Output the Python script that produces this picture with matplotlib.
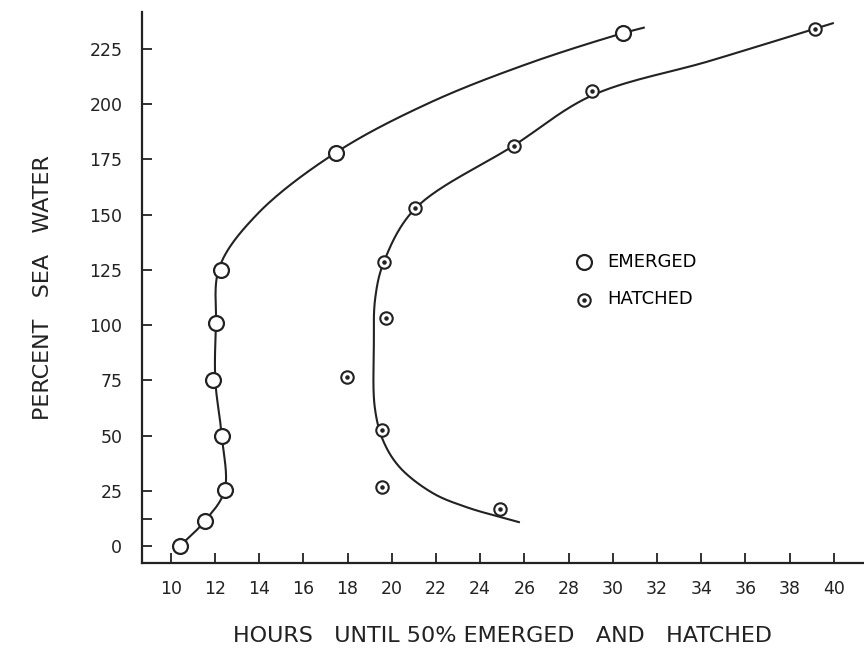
import numpy as np
import matplotlib
matplotlib.use("Agg")
import matplotlib.pyplot as plt

# ---- data ----
emerged_hours = [10.41, 11.54, 12.44, 12.31, 11.90, 12.04, 12.26, 17.47, 30.45]
emerged_pct = [0, 11.3, 25.3, 50, 75, 101, 125, 178, 232]

hatched_hours = [24.9, 19.55, 19.55, 17.96, 19.73, 19.64, 21.04, 25.52, 29.05, 39.14]
hatched_pct = [17, 27, 52.5, 76.5, 103, 128.5, 153, 181, 206, 234]

# hand-drawn fitted curves (knots of the drawn lines)
emerged_fit_x = [10.41, 11.54, 12.44, 12.31, 12.02, 12.05, 12.2, 13.9, 17.47, 21.7, 26.24, 30.45, 31.4]
emerged_fit_y = [0, 11.3, 25.3, 50, 75, 100, 126, 150, 178, 200.5, 218.5, 232, 234.5]

hatched_fit_x = [25.75, 23.4, 21.86, 20.36, 19.6, 19.23, 19.19, 19.25, 19.64, 21.04, 25.52, 29.05, 34.4, 39.14, 39.95]
hatched_fit_y = [10.9, 17.6, 24, 35.7, 48, 63, 90, 112, 128.5, 152.5, 181.2, 203.8, 219.5, 234, 236.5]

x_ticks = list(range(10, 41, 2))
y_ticks = [0, 25, 50, 75, 100, 125, 150, 175, 200, 225]
y_minor = [12.5]


def catmull_rom(xs, ys, sx=10.0, n=30, alpha=0.5):
    P = np.column_stack([np.asarray(xs) * sx, np.asarray(ys)])
    P = np.vstack([2 * P[0] - P[1], P, 2 * P[-1] - P[-2]])
    out = []
    for i in range(1, len(P) - 2):
        p0, p1, p2, p3 = P[i - 1], P[i], P[i + 1], P[i + 2]
        t0 = 0.0
        t1 = t0 + np.linalg.norm(p1 - p0) ** alpha
        t2 = t1 + np.linalg.norm(p2 - p1) ** alpha
        t3 = t2 + np.linalg.norm(p3 - p2) ** alpha
        t = np.linspace(t1, t2, n)[:, None]
        A1 = (t1 - t) / (t1 - t0) * p0 + (t - t0) / (t1 - t0) * p1
        A2 = (t2 - t) / (t2 - t1) * p1 + (t - t1) / (t2 - t1) * p2
        A3 = (t3 - t) / (t3 - t2) * p2 + (t - t2) / (t3 - t2) * p3
        B1 = (t2 - t) / (t2 - t0) * A1 + (t - t0) / (t2 - t0) * A2
        B2 = (t3 - t) / (t3 - t1) * A2 + (t - t1) / (t3 - t1) * A3
        C = (t2 - t) / (t2 - t1) * B1 + (t - t1) / (t2 - t1) * B2
        out.append(C)
    C = np.vstack(out)
    return C[:, 0] / sx, C[:, 1]


ink = "#222222"
plt.rcParams['font.family'] = ['DejaVu Sans']

fig = plt.figure(figsize=(8.64, 6.65), dpi=100)
ax = fig.add_axes([0.164, 0.153, 0.836, 0.829])
ax.set_xlim(8.69, 41.36)
ax.set_ylim(-7.7, 241.6)

ex, ey = catmull_rom(emerged_fit_x, emerged_fit_y)
hx, hy = catmull_rom(hatched_fit_x, hatched_fit_y)
ax.plot(ex, ey, color=ink, lw=1.5, zorder=2)
ax.plot(hx, hy, color=ink, lw=1.5, zorder=2)

em = ax.scatter(emerged_hours, emerged_pct, s=115, facecolors="white",
                edgecolors=ink, linewidths=1.6, zorder=3)
hc = ax.scatter(hatched_hours, hatched_pct, s=80, facecolors="white",
                edgecolors=ink, linewidths=1.5, zorder=3)
hd = ax.scatter(hatched_hours, hatched_pct, s=5, color=ink, zorder=4)

ax.legend([em, (hc, hd)], ["EMERGED", "HATCHED"], frameon=False,
          loc="upper left", bbox_to_anchor=(0.585, 0.58),
          fontsize=13, labelspacing=1.1, handletextpad=0.7, borderpad=0,
          handlelength=1.2)

for s in ("top", "right"):
    ax.spines[s].set_visible(False)
for s in ("left", "bottom"):
    ax.spines[s].set_linewidth(1.6)
    ax.spines[s].set_color(ink)

ax.set_xticks(x_ticks)
ax.set_yticks(y_ticks)
ax.set_yticks(y_minor, minor=True)
ax.tick_params(axis="both", which="both", direction="in", length=7,
               width=1.3, color=ink, labelcolor=ink, labelsize=12.5)
ax.tick_params(axis="y", pad=14)
ax.tick_params(axis="x", pad=12)

ax.set_xlabel("HOURS   UNTIL 50% EMERGED   AND   HATCHED", fontsize=16,
              color=ink, labelpad=20)
ax.set_ylabel("PERCENT   SEA   WATER", fontsize=16, color=ink, labelpad=26)

fig.savefig("out.png", dpi=100, facecolor="white")
